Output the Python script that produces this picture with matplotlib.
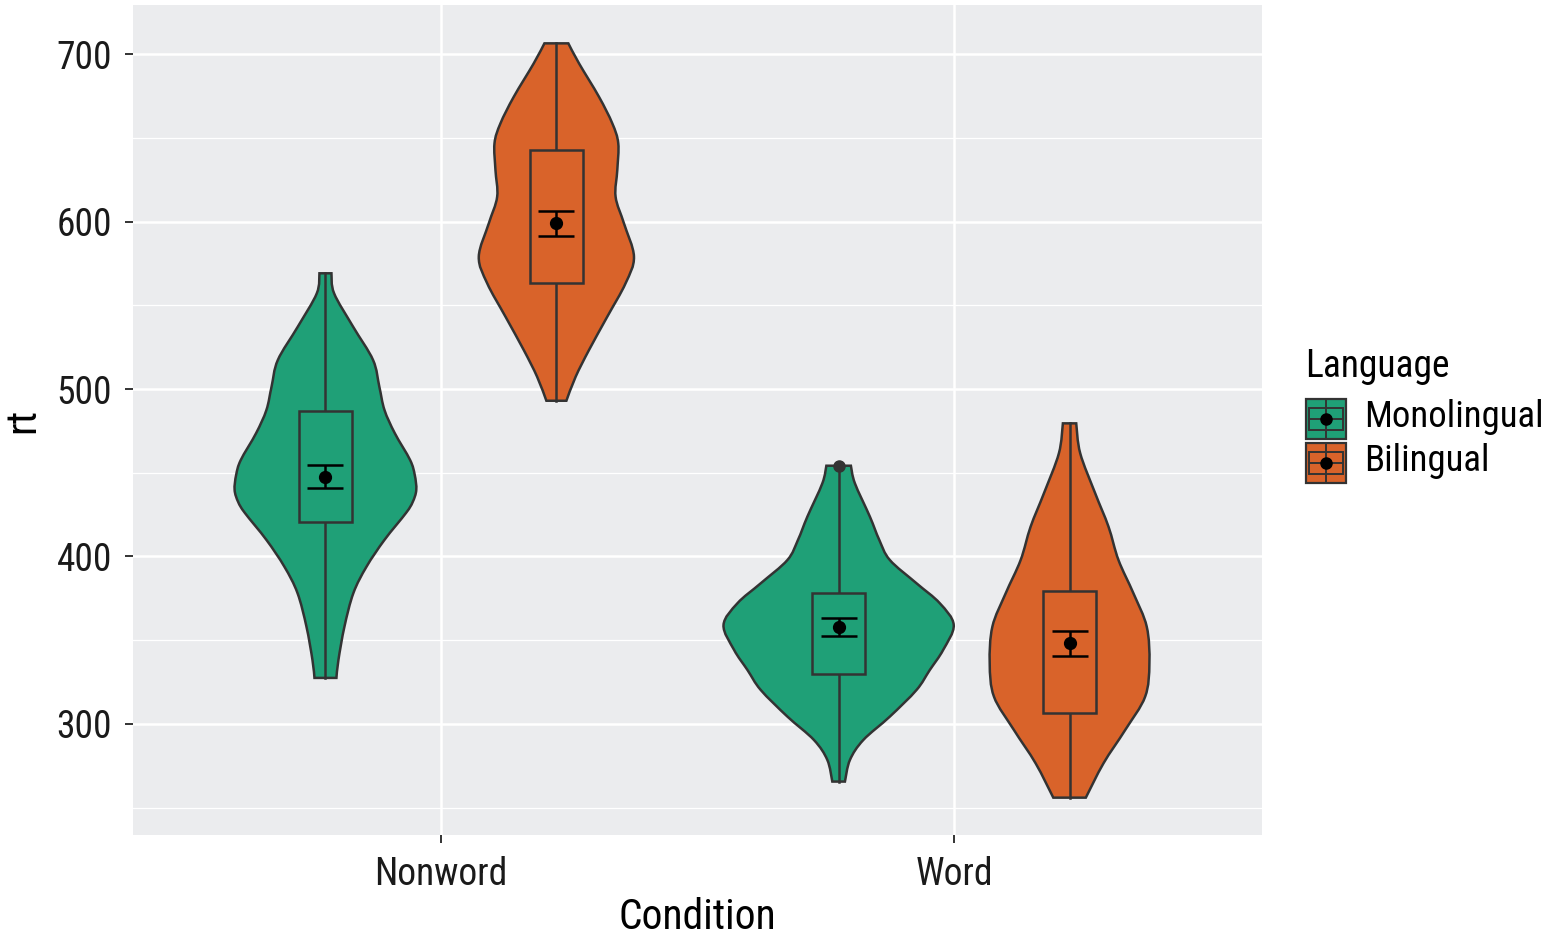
import numpy as np
import matplotlib
matplotlib.use("Agg")
import matplotlib.pyplot as plt
from matplotlib.path import Path
from matplotlib.patches import PathPatch, Rectangle

plt.rcParams["font.family"] = ["Roboto Condensed", "Liberation Sans Narrow", "Roboto", "DejaVu Sans"]

# kategoriler
conditions = ["Nonword", "Word"]
languages = ["Monolingual", "Bilingual"]
colors = {"Monolingual": "#1FA077", "Bilingual": "#D9632A"}

# violin konturlari: (rt, yari genislik)
nw_mono_y = [569.1, 557.1, 537.2, 517.3, 501.4, 487.5, 473.7, 457.6, 448.7, 439.7, 432.5, 426.0, 409.9, 393.9, 378.2, 358.1, 338.2, 327.5]
nw_mono_w = [0.0117, 0.0169, 0.0539, 0.0928, 0.105, 0.115, 0.135, 0.165, 0.174, 0.177, 0.170, 0.157, 0.115, 0.080, 0.0545, 0.037, 0.0253, 0.0214]

nw_bi_y = [706.4, 694.4, 674.5, 658.6, 646.7, 630.7, 614.8, 598.9, 579.0, 563.1, 543.2, 523.3, 507.3, 493.0]
nw_bi_w = [0.0233, 0.0442, 0.083, 0.109, 0.1206, 0.1187, 0.1154, 0.1317, 0.1512, 0.1348, 0.0992, 0.0636, 0.0375, 0.0195]

w_mono_y = [454.2, 443.7, 423.8, 409.9, 397.9, 384.0, 372.1, 359.1, 344.2, 332.2, 320.3, 304.4, 290.4, 278.5, 265.6]
w_mono_w = [0.0239, 0.0317, 0.0609, 0.0792, 0.0998, 0.1518, 0.1971, 0.2243, 0.2037, 0.1776, 0.1518, 0.0998, 0.048, 0.022, 0.0123]

w_bi_y = [479.5, 461.6, 437.7, 417.8, 397.9, 378.0, 358.1, 336.2, 316.3, 296.4, 276.5, 256.0]
w_bi_w = [0.013, 0.0208, 0.05, 0.0759, 0.0953, 0.1245, 0.1504, 0.1556, 0.1473, 0.1084, 0.0661, 0.0317]

# kutu: alt ceyrek, ust ceyrek, min, max
box_q1 = [420.4, 563.1, 329.9, 306.4]
box_q3 = [487.1, 642.7, 378.0, 379.6]
box_lo = [327.5, 493.0, 265.6, 256.0]
box_hi = [569.1, 706.4, 454.2, 479.5]
outliers = [None, None, 454.2, None]

# ortalama ve hata cubuklari
means = [447.6, 599.3, 358.1, 348.2]
err_lo = [440.9, 591.5, 352.7, 340.6]
err_hi = [454.6, 606.4, 363.5, 355.5]

profiles = [(nw_mono_y, nw_mono_w), (nw_bi_y, nw_bi_w), (w_mono_y, w_mono_w), (w_bi_y, w_bi_w)]
groups = [(0, "Monolingual"), (0, "Bilingual"), (1, "Monolingual"), (1, "Bilingual")]

OUT = "#333333"
LW = 1.8


def smooth(pts):
    # Catmull-Rom -> Bezier, sadece cizim icin
    pts = np.asarray(pts, float)
    verts = [pts[0]]
    n = len(pts)
    for i in range(n - 1):
        p0 = pts[max(i - 1, 0)]
        p1 = pts[i]
        p2 = pts[i + 1]
        p3 = pts[min(i + 2, n - 1)]
        verts += [p1 + (p2 - p0) / 6, p2 - (p3 - p1) / 6, p2]
    return verts


fig = plt.figure(figsize=(15.46, 9.38), dpi=100)
ax = fig.add_axes([133 / 1546, 1 - 835 / 938, (1262 - 133) / 1546, (835 - 5) / 938])
ax.set_facecolor("#EBECEE")
ax.set_xlim(0.4, 2.6)
ax.set_ylim(233.7, 729.3)

for v in [250, 350, 450, 550, 650]:
    ax.axhline(v, color="white", lw=0.9, zorder=0)
for v in [300, 400, 500, 600, 700]:
    ax.axhline(v, color="white", lw=1.8, zorder=0)
for v in [1, 2]:
    ax.axvline(v, color="white", lw=1.8, zorder=0)

for k, ((ys, ws), (ci, lang)) in enumerate(zip(profiles, groups)):
    off = -0.225 if lang == "Monolingual" else 0.225
    c = ci + 1 + off
    ys = np.array(ys)
    ws = np.array(ws)
    right = smooth(np.column_stack([c + ws[::-1], ys[::-1]]))
    left = smooth(np.column_stack([c - ws, ys]))
    verts = right + left + [right[0]]
    codes = [Path.MOVETO] + [Path.CURVE4] * (len(right) - 1) + [Path.LINETO] + \
            [Path.CURVE4] * (len(left) - 1) + [Path.CLOSEPOLY]
    ax.add_patch(PathPatch(Path(verts, codes), facecolor=colors[lang], edgecolor=OUT, lw=LW, zorder=2))

    # kutu grafigi
    ax.plot([c, c], [box_lo[k], box_q1[k]], color=OUT, lw=LW, zorder=3)
    ax.plot([c, c], [box_q3[k], box_hi[k]], color=OUT, lw=LW, zorder=3)
    ax.add_patch(Rectangle((c - 0.051, box_q1[k]), 0.102, box_q3[k] - box_q1[k],
                           facecolor=colors[lang], edgecolor=OUT, lw=LW, zorder=3))
    if outliers[k] is not None:
        ax.plot(c, outliers[k], "o", color=OUT, ms=8, zorder=4)

    # ortalama
    ax.errorbar(c, means[k], yerr=[[means[k] - err_lo[k]], [err_hi[k] - means[k]]],
                fmt="o", color="black", ms=8.5, capsize=13, capthick=1.8, elinewidth=1.8, zorder=5)

ax.set_xticks([1, 2])
ax.set_xticklabels(conditions)
ax.set_yticks([300, 400, 500, 600, 700])
ax.tick_params(axis="both", colors="#333333", length=6, width=1.4, labelsize=27, labelcolor="#1A1A1A", pad=9)
for s in ax.spines.values():
    s.set_visible(False)
ax.set_xlabel("Condition", fontsize=30, labelpad=3, color="black")
ax.set_ylabel("rt", fontsize=30, labelpad=10, color="black")

# lejant
lax = fig.add_axes([0, 0, 1, 1], facecolor="none")
lax.set_xlim(0, 1546)
lax.set_ylim(938, 0)
lax.axis("off")
lax.text(1305, 377, "Language", fontsize=27, va="baseline", ha="left")
for i, lang in enumerate(languages):
    top = 399 + i * 44
    lax.add_patch(Rectangle((1306, top), 40, 40, facecolor=colors[lang], edgecolor=OUT, lw=1.6))
    lax.plot([1326, 1326], [top, top + 40], color=OUT, lw=1.4)
    lax.add_patch(Rectangle((1309, top + 9), 34, 22, facecolor=colors[lang], edgecolor=OUT, lw=1.4))
    lax.plot([1309, 1343], [top + 20, top + 20], color=OUT, lw=1.4)
    lax.plot(1326, top + 20, "o", color="black", ms=8)
    lax.text(1364, top + 18, lang, fontsize=26.5, va="center", ha="left")

fig.savefig("out.png", dpi=100)
